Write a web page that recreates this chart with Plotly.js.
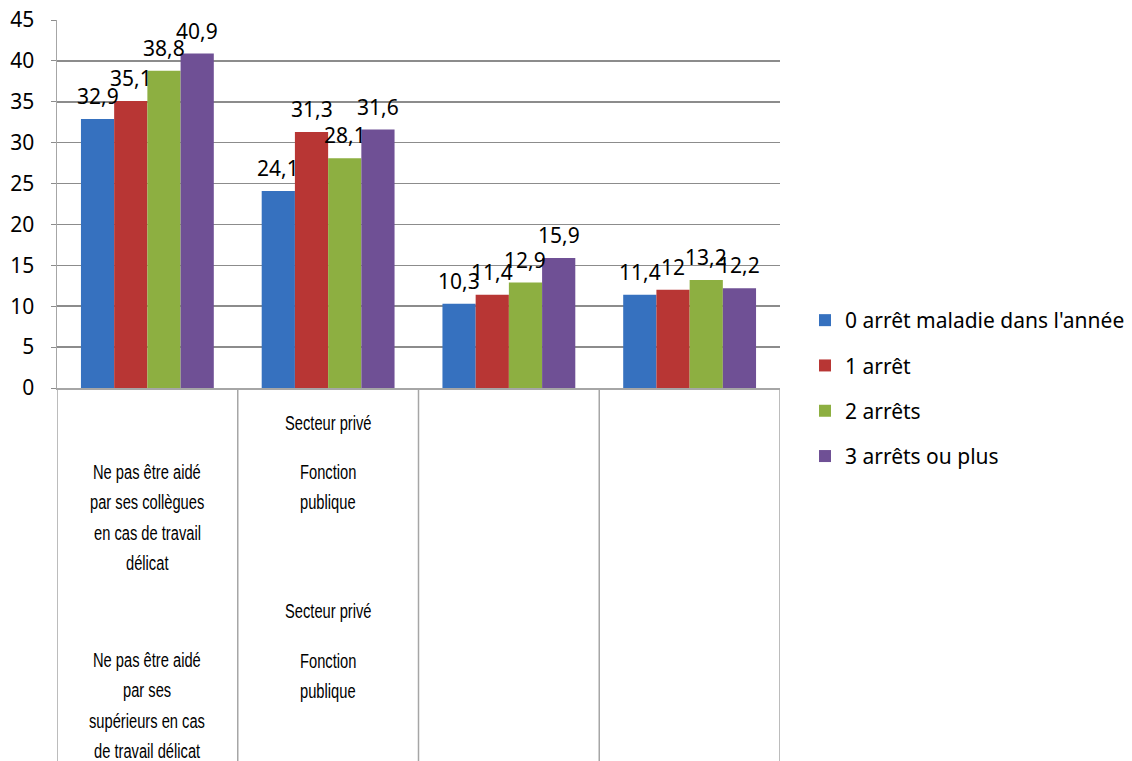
<!DOCTYPE html>
<html>
<head>
<meta charset="utf-8">
<script src="https://cdn.plot.ly/plotly-3.0.1.min.js"></script>
<style>
html,body{margin:0;padding:0;background:#fff;}
#chart{width:1132px;height:761px;}
text.annotation-text[style*="Narrow"]{transform-box:fill-box;transform-origin:center;transform:scaleX(0.7);}
</style>
</head>
<body>
<div id="chart"></div>
<script>
// ---- data ----
const categories = ["Collègues – Secteur privé", "Collègues – Fonction publique", "Supérieurs – Secteur privé", "Supérieurs – Fonction publique"];
const seriesNames = ["0 arrêt maladie dans l'année", "1 arrêt", "2 arrêts", "3 arrêts ou plus"];
const arret0 = [32.9, 24.1, 10.3, 11.4];
const arret1 = [35.1, 31.3, 11.4, 12];
const arret2 = [38.8, 28.1, 12.9, 13.2];
const arret3plus = [40.9, 31.6, 15.9, 12.2];
const yTicks = [0, 5, 10, 15, 20, 25, 30, 35, 40, 45];
// category label blocks (as drawn in the original multi-level axis)
const outerLabel1 = ["Ne pas être aidé", "par ses collègues", "en cas de travail", "délicat"];
const outerLabel2 = ["Ne pas être aidé", "par ses", "supérieurs en cas", "de travail délicat"];
const innerLabelPrive = ["Secteur privé"];
const innerLabelPublic = ["Fonction", "publique"];

// ---- style ----
const colors = ["#3671BF", "#B83634", "#8DAF41", "#6F5095"];
const fmt = v => String(v).replace('.', ',');
const allSeries = [arret0, arret1, arret2, arret3plus];
const BARGAP = 0.265;
const barW = (1 - BARGAP) / allSeries.length;

const traces = allSeries.map((vals, i) => ({
  type: 'bar',
  name: seriesNames[i],
  x: categories,
  y: vals,
  marker: {color: colors[i]},
  legendgroup: 'g' + i,
  hoverinfo: 'x+y+name'
}));

// plot area geometry (px)
const PLOT_TOP = 20, PLOT_BOTTOM = 388;
const plotH = PLOT_BOTTOM - PLOT_TOP;
const py = p => (PLOT_BOTTOM - p) / plotH;

const annotations = [];
// data labels, centred above each bar
allSeries.forEach((vals, i) => {
  vals.forEach((v, c) => {
    annotations.push({
      text: fmt(v), xref: 'x', yref: 'y',
      x: c + (i - (allSeries.length - 1) / 2) * barW, y: v,
      xanchor: 'center', yanchor: 'middle', yshift: 23, showarrow: false,
      font: {family: 'Noto Sans, sans-serif', size: 21, color: '#000'}
    });
  });
});

const lineGap = 30.5;
function addBlock(lines, xcat, firstY) {
  lines.forEach((t, k) => {
    annotations.push({
      text: t, xref: 'x', yref: 'paper', x: xcat, y: py(firstY + k * lineGap),
      xanchor: 'center', yanchor: 'middle', showarrow: false,
      font: {family: 'Liberation Sans Narrow, sans-serif', size: 21, color: '#000'}
    });
  });
}
addBlock(outerLabel1, 0, 471);
addBlock(outerLabel2, 0, 659);
addBlock(innerLabelPrive, 1, 422);
addBlock(innerLabelPublic, 1, 471);
addBlock(innerLabelPrive, 1, 610);
addBlock(innerLabelPublic, 1, 660);

const shapes = [-0.5, 0.5, 1.5, 2.5, 3.5].map(xv => ({
  type: 'line', xref: 'x', yref: 'paper', x0: xv, x1: xv, y0: 0, y1: py(761),
  line: {color: '#a6a6a6', width: 1.5}
}));

const layout = {
  width: 1132, height: 761,
  margin: {l: 57, r: 352, t: PLOT_TOP, b: 761 - PLOT_BOTTOM, pad: 0, autoexpand: false},
  paper_bgcolor: '#fff', plot_bgcolor: '#fff',
  barmode: 'group', bargap: BARGAP, bargroupgap: 0,
  font: {family: 'Noto Sans, sans-serif', color: '#000'},
  xaxis: {
    showticklabels: false, ticks: '', showgrid: false,
    showline: true, linecolor: '#a6a6a6', linewidth: 1.5,
    range: [-0.5, 3.5], fixedrange: true
  },
  yaxis: {
    range: [0, 45], tickvals: yTicks, ticktext: yTicks.map(String),
    showgrid: true, gridcolor: '#8c8c8c', gridwidth: 1.5,
    showline: true, linecolor: '#a6a6a6', linewidth: 1.5,
    ticks: 'outside', ticklen: 5, tickcolor: '#8c8c8c',
    ticklabelstandoff: 12,
    tickfont: {family: 'Noto Sans, sans-serif', size: 21, color: '#000'},
    zeroline: false, fixedrange: true
  },
  legend: {
    x: (805 - 57) / 723, xanchor: 'left', y: py(300), yanchor: 'top',
    traceorder: 'grouped', tracegroupgap: 15,
    font: {family: 'Noto Sans, sans-serif', size: 21, color: '#000'},
    itemwidth: 30, bgcolor: 'rgba(0,0,0,0)'
  },
  annotations: annotations,
  shapes: shapes,
  showlegend: true
};

Plotly.newPlot('chart', traces, layout, {displayModeBar: false, staticPlot: true});
</script>
</body>
</html>
